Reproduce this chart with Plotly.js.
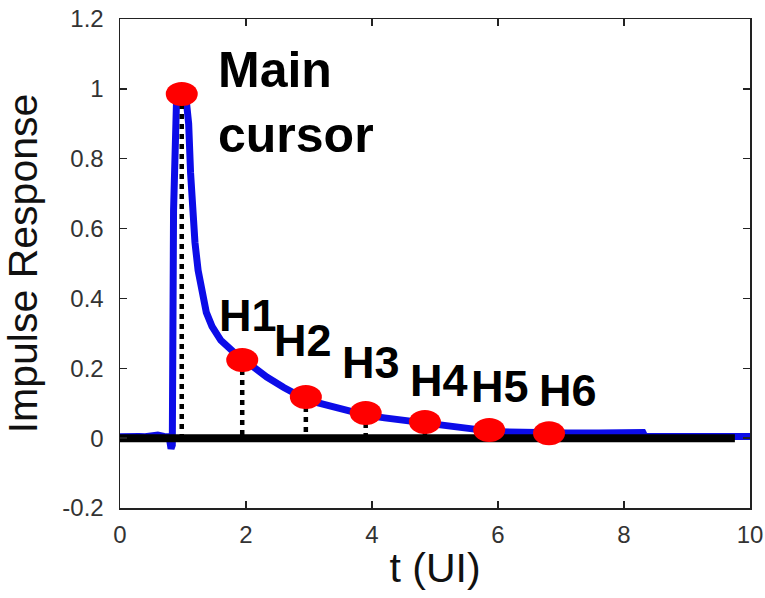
<!DOCTYPE html>
<html><head><meta charset="utf-8">
<script src="https://cdn.plot.ly/plotly-3.0.1.min.js"></script>
<style>html,body{margin:0;padding:0;background:#fff}#chart{width:765px;height:598px}</style>
</head><body><div id="chart"></div>
<script>
// ---- data ----
const responseT = [0, 0.1, 0.2, 0.3, 0.4, 0.5, 0.6, 0.7, 0.78, 0.81, 0.83, 0.85, 0.87, 0.9, 0.95, 1.0, 1.05, 1.09, 1.12, 1.15, 1.19, 1.24, 1.3, 1.37, 1.46, 1.6, 1.8, 1.95, 2.1, 2.33, 2.6, 2.86, 3.1, 3.38, 3.65, 3.9, 4.2, 4.44, 4.7, 4.97, 5.25, 5.5, 5.75, 6.03, 6.3, 6.56, 7.1, 7.6, 8.0, 8.3, 8.33, 9.0, 9.5, 10.0];
const responseY = [0.004, 0.005, 0.008, 0.005, 0.004, 0.006, 0.009, 0.005, 0.004, -0.03, -0.02, 0.65, 0.93, 0.985, 0.99, 0.985, 0.97, 0.9, 0.76, 0.65, 0.56, 0.48, 0.41, 0.36, 0.32, 0.28, 0.247, 0.225, 0.205, 0.175, 0.145, 0.12, 0.103, 0.089, 0.076, 0.066, 0.058, 0.052, 0.047, 0.043, 0.036, 0.029, 0.023, 0.018, 0.016, 0.014, 0.015, 0.015, 0.016, 0.016, 0.005, 0.005, 0.005, 0.005];
const cursorLabels = ['Main<br>cursor', 'H1', 'H2', 'H3', 'H4', 'H5', 'H6'];
const cursorT = [0.98, 1.94, 2.95, 3.9, 4.84, 5.86, 6.81];
const cursorY = [0.985, 0.224, 0.118, 0.072, 0.046, 0.023, 0.014];
const baselineT = [-0.05, 9.76];
const baselineY = [0, 0];
const xTickVals = [0, 2, 4, 6, 8, 10];
const xTickText = ['0', '2', '4', '6', '8', '10'];
const yTickVals = [-0.2, 0, 0.2, 0.4, 0.6, 0.8, 1, 1.2];
const yTickText = ['-0.2', '0', '0.2', '0.4', '0.6', '0.8', '1', '1.2'];
const xTitle = 't (UI)';
const yTitle = 'Impulse Response';

// ---- label placement (layout, not data) ----
const labelPos = [
  {x: 1.52, y: 1.14, xanchor: 'left', yanchor: 'top', size: 50},
  {x: 2.03, y: 0.35, xanchor: 'center', yanchor: 'middle', size: 45},
  {x: 2.9, y: 0.28, xanchor: 'center', yanchor: 'middle', size: 45},
  {x: 3.98, y: 0.218, xanchor: 'center', yanchor: 'middle', size: 45},
  {x: 5.06, y: 0.164, xanchor: 'center', yanchor: 'middle', size: 45},
  {x: 6.03, y: 0.149, xanchor: 'center', yanchor: 'middle', size: 45},
  {x: 7.11, y: 0.135, xanchor: 'center', yanchor: 'middle', size: 45}
];

// dotted drop lines from each cursor down to zero
const dropX = [], dropY = [];
cursorT.forEach((t, i) => { dropX.push(t, t, null); dropY.push(cursorY[i], 0, null); });

const font = 'Liberation Sans, Arial, sans-serif';

const traces = [
  {x: responseT, y: responseY, mode: 'lines', line: {color: '#0c0ce8', width: 7}, hoverinfo: 'skip'},
  {x: dropX, y: dropY, mode: 'lines', line: {color: '#000', width: 4.5, dash: '5px,5px'}, hoverinfo: 'skip'},
  {x: baselineT, y: baselineY, mode: 'lines', line: {color: '#000', width: 8}, hoverinfo: 'skip'}
];

const shapes = cursorT.map((t, i) => ({
  type: 'circle', layer: 'above', xref: 'x', yref: 'y',
  xsizemode: 'pixel', ysizemode: 'pixel', xanchor: t, yanchor: cursorY[i],
  x0: -16, x1: 16, y0: -12, y1: 12,
  fillcolor: '#ff0000', line: {width: 0}
}));

const annotations = cursorLabels.map((txt, i) => ({
  text: txt, x: labelPos[i].x, y: labelPos[i].y, xref: 'x', yref: 'y',
  xanchor: labelPos[i].xanchor, yanchor: labelPos[i].yanchor, align: 'left',
  showarrow: false, font: {family: font, size: labelPos[i].size, color: '#000', weight: 'bold'}
}));

const axisCommon = {
  showgrid: false, zeroline: false, showline: true, linecolor: '#222', linewidth: 1.5,
  mirror: 'ticks', ticks: 'inside', ticklen: 7, tickwidth: 1.5, tickcolor: '#222',
  tickfont: {family: font, size: 24, color: '#333'}
};

const layout = {
  width: 765, height: 598,
  margin: {l: 120, r: 15, t: 19, b: 90},
  paper_bgcolor: '#fff', plot_bgcolor: '#fff',
  showlegend: false,
  xaxis: Object.assign({}, axisCommon, {
    range: [0, 10], tickmode: 'array', tickvals: xTickVals, ticktext: xTickText,
    ticklabelstandoff: 5,
    title: {text: xTitle, font: {family: font, size: 41, color: '#111'}, standoff: 6}
  }),
  yaxis: Object.assign({}, axisCommon, {
    range: [-0.2, 1.2], tickmode: 'array', tickvals: yTickVals, ticktext: yTickText,
    ticklabelstandoff: 10,
    title: {text: yTitle, font: {family: font, size: 41, color: '#111'}, standoff: 20}
  }),
  shapes: shapes,
  annotations: annotations
};

Plotly.newPlot('chart', traces, layout, {staticPlot: true, displayModeBar: false});
</script>
</body></html>
